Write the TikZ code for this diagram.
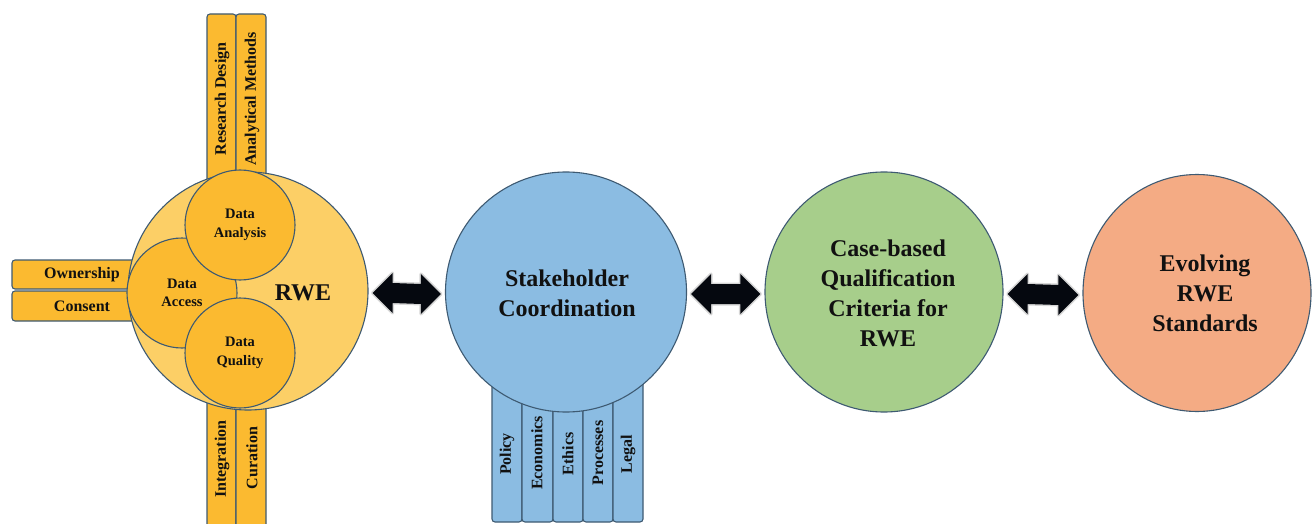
\documentclass[tikz,border=0pt]{standalone}
\usepackage{fontspec}
\setmainfont{Liberation Serif}
\usetikzlibrary{shapes.geometric,calc}
\definecolor{rweLight}{HTML}{FCCF66}
\definecolor{rweDark}{HTML}{FBBA30}
\definecolor{stakeC}{HTML}{8BBCE2}
\definecolor{greenC}{HTML}{A7CE8B}
\definecolor{orangeC}{HTML}{F4AB84}
\definecolor{edgeC}{HTML}{3E5A72}
\definecolor{txtC}{HTML}{111111}
\definecolor{arrowC}{HTML}{05080F}
\begin{document}
\begin{tikzpicture}[x=1pt,y=-1pt,
  edgeline/.style={draw=edgeC, line width=1.1pt},
  ybar/.style={edgeline, fill=rweDark, rounded corners=3pt},
  bbar/.style={edgeline, fill=stakeC, rounded corners=3pt},
  lbl/.style={font=\bfseries\fontsize{16}{18}\selectfont, text=txtC, inner sep=0pt},
  vlbl/.style={lbl, rotate=90},
  bigc/.style={ellipse, edgeline, inner sep=0pt},
  smallc/.style={circle, edgeline, fill=rweDark, minimum size=110pt, inner sep=0pt,
    align=center, text=txtC, font=\bfseries\fontsize{14.5}{18.5}\selectfont},
  bigtxt/.style={align=center, text=txtC, font=\bfseries\fontsize{24}{30}\selectfont},
  blockarrow/.style={fill=arrowC, preaction={draw=black!45, line width=3pt, opacity=0.35, line join=round}}
]
\clip (0,0) rectangle (1312,524);
\fill[white] (0,0) rectangle (1312,524);

% ---- RWE bars (behind) ----
\draw[ybar] (207,14) rectangle (236,250);
\draw[ybar] (236,14) rectangle (266,250);
\draw[ybar] (12,260) rectangle (160,289);
\draw[ybar] (12,291) rectangle (160,321);
\draw[ybar] (207,330) rectangle (236,540);
\draw[ybar] (236,330) rectangle (266,540);

% ---- RWE circles ----
\node[bigc, fill=rweLight, minimum width=240pt, minimum height=238pt] (rwe) at (248,291) {};
\node[smallc] (access) at (182,293) {Data\\Access};
\node[smallc] (analysis) at (240,225) {Data\\Analysis};
\node[smallc] (quality) at (240,353) {Data\\Quality};
\node[bigtxt] (rwelbl) at (303,293) {RWE};

% ---- RWE bar labels ----
\node[vlbl] (resdes) at (222,99) {Research Design};
\node[vlbl] (anmeth) at (252,99) {Analytical Methods};
\node[lbl] (owner) at (82,275) {Ownership};
\node[lbl] (consent) at (82,306) {Consent};
\node[vlbl] (integ) at (222,459) {Integration};
\node[vlbl] (curat) at (252,458) {Curation};

% ---- Stakeholder bars ----
\draw[bbar] (492,370) rectangle (522,522);
\draw[bbar] (522,370) rectangle (553,522);
\draw[bbar] (553,370) rectangle (583,522);
\draw[bbar] (583,370) rectangle (613,522);
\draw[bbar] (613,370) rectangle (643,522);
\node[bigc, fill=stakeC, minimum width=241pt, minimum height=240pt] (stake) at (566,292) {};
\node[bigtxt] (stakelbl) at (567,293) {Stakeholder\\Coordination};
\node[vlbl] (policy) at (507,454) {Policy};
\node[vlbl] (econ) at (537,453) {Economics};
\node[vlbl] (ethics) at (568,454) {Ethics};
\node[vlbl] (proc) at (598,453) {Processes};
\node[vlbl] (legal) at (628,454) {Legal};

% ---- Green and orange ----
\node[bigc, fill=greenC, minimum width=238pt, minimum height=240pt] (crit) at (884,292) {};
\node[bigtxt] (critlbl) at (888,293) {Case-based\\Qualification\\Criteria for\\RWE};
\node[bigc, fill=orangeC, minimum width=228pt, minimum height=237pt] (evolve) at (1197,293) {};
\node[bigtxt] (evolvelbl) at (1205,293) {Evolving\\RWE\\Standards};

% ---- Block double arrows ----
\foreach \a/\b/\n in {rwe/stake/1, stake/crit/2, crit/evolve/3}{
  \coordinate (s\n) at ($(\a.east)+(4,2)$);
  \coordinate (e\n) at ($(\b.west)+(-4,2)$);
  \path[blockarrow] (s\n) -- ++(20,-20) -- ++(0,10) -- ($(e\n)+(-20,-10)$) -- ++(0,-10)
    -- (e\n) -- ++(-20,20) -- ++(0,-10) -- ($(s\n)+(20,10)$) -- ++(0,10) -- cycle;
}
\end{tikzpicture}
\end{document}
